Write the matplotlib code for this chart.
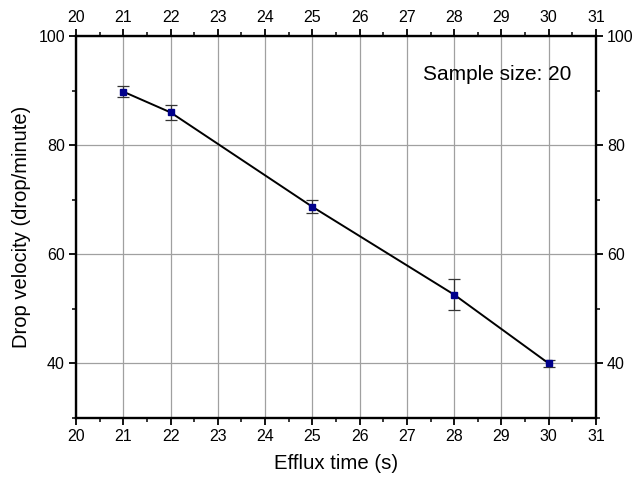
import matplotlib
matplotlib.use("Agg")
import matplotlib.pyplot as plt
from matplotlib.ticker import MultipleLocator

plt.rcParams['font.family'] = ['Liberation Sans', 'DejaVu Sans']

efflux_time = [21, 22, 25, 28, 30]
drop_velocity = [89.8, 86.0, 68.7, 52.6, 40.0]
drop_err = [1.0, 1.4, 1.2, 2.8, 0.7]
x_ticks = list(range(20, 32))
y_ticks = [40, 60, 80, 100]

fig = plt.figure(figsize=(6.35, 4.84), dpi=100)
ax = fig.add_axes([76/635, 1-418/484, (596-76)/635, (418-36)/484])

ax.errorbar(efflux_time, drop_velocity, yerr=drop_err, color='black', lw=1.4,
            marker='s', ms=5, mfc='#00008B', mec='#00008B', ecolor='#333333',
            elinewidth=0.9, capsize=4, capthick=0.9, zorder=3)

ax.set_xlim(20, 31)
ax.set_ylim(30, 100)
ax.set_xticks(x_ticks)
ax.set_yticks(y_ticks)
ax.xaxis.set_minor_locator(MultipleLocator(0.5))
ax.yaxis.set_minor_locator(MultipleLocator(10))
ax.grid(True, which='major', color='#a0a0a0', lw=0.9)
ax.set_axisbelow(True)

for s in ax.spines.values():
    s.set_linewidth(1.7)

ax.tick_params(which='major', direction='out', length=5, width=1.3, labelsize=11.5,
               pad=3, top=True, right=True, labeltop=True, labelright=True)
ax.tick_params(which='minor', direction='out', length=3, width=1.1,
               top=True, right=True)

ax.set_xlabel('Efflux time (s)', fontsize=14.7, labelpad=7)
ax.set_ylabel('Drop velocity (drop/minute)', fontsize=14.5, labelpad=5)

ax.text(27.35, 92.9, 'Sample size: 20', fontsize=15, va='center', ha='left')

fig.savefig('out.png', dpi=100)
